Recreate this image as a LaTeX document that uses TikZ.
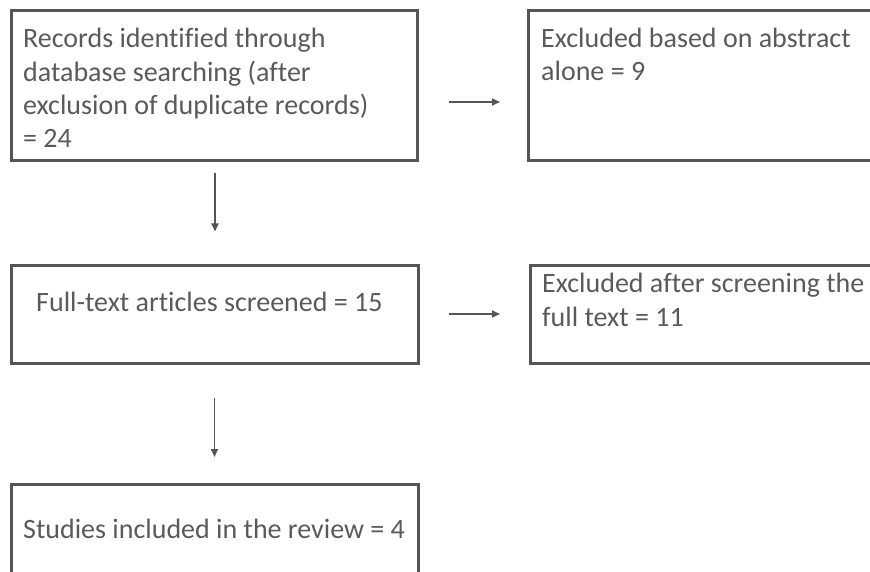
\documentclass[tikz,border=0pt]{standalone}
\usepackage{fontspec}
\setmainfont{Carlito}[Ligatures=NoCommon]
\usetikzlibrary{arrows.meta,calc}
\definecolor{boxgray}{HTML}{555555}
\definecolor{txtgray}{HTML}{5A5A5A}
\begin{document}
\begin{tikzpicture}[x=1pt,y=-1pt,
  box/.style={draw=boxgray,line width=3pt,rectangle,inner sep=0pt},
  txt/.style={text=txtgray,inner sep=0pt,anchor=base west,align=left,
    font=\fontsize{28}{33.2}\selectfont},
  arr/.style={draw=boxgray,line width=1.7pt,-{Triangle[length=8pt,width=7pt]}}]
\useasboundingbox (0,0) rectangle (870,572);
% boxes
\node[box,minimum width=406pt,minimum height=150pt] (b1) at (214,86) {};
\node[box,minimum width=370pt,minimum height=150pt,anchor=west] (b2) at (527,86) {};
\node[box,minimum width=407pt,minimum height=98pt] (b3) at (214.5,314) {};
\node[box,minimum width=370pt,minimum height=98pt,anchor=west] (b4) at (529,314) {};
\node[box,minimum width=407pt,minimum height=130pt,anchor=north] (b5) at (214.5,483) {};
% texts (base anchor = baseline of the last line)
\node[txt] (t1) at (23,147.5) {Records identified through\\database searching (after\\exclusion of duplicate records)\\= 24};
\node[txt] (t2) at (541,81) {Excluded based on abstract\\alone = 9};
\node[txt] (t3) at (36,311) {Full-text articles screened = 15};
\node[txt] (t4) at (542,326) {Excluded after screening the\\full text = 11};
\node[txt] (t5) at (23,538) {Studies included in the review = 4};
% arrows
\draw[arr] ([shift={(30,16)}]b1.east) -- ([shift={(-27,16)}]b2.west);
\draw[arr] ([shift={(29,0)}]b3.east) -- ([shift={(-29,0)}]b4.west);
\draw[arr] ([shift={(1,11)}]b1.south) -- ([shift={(0.5,-32)}]b3.north);
\draw[arr] ([shift={(0,33)}]b3.south) -- ([shift={(0,-26)}]b5.north);
\end{tikzpicture}
\end{document}
